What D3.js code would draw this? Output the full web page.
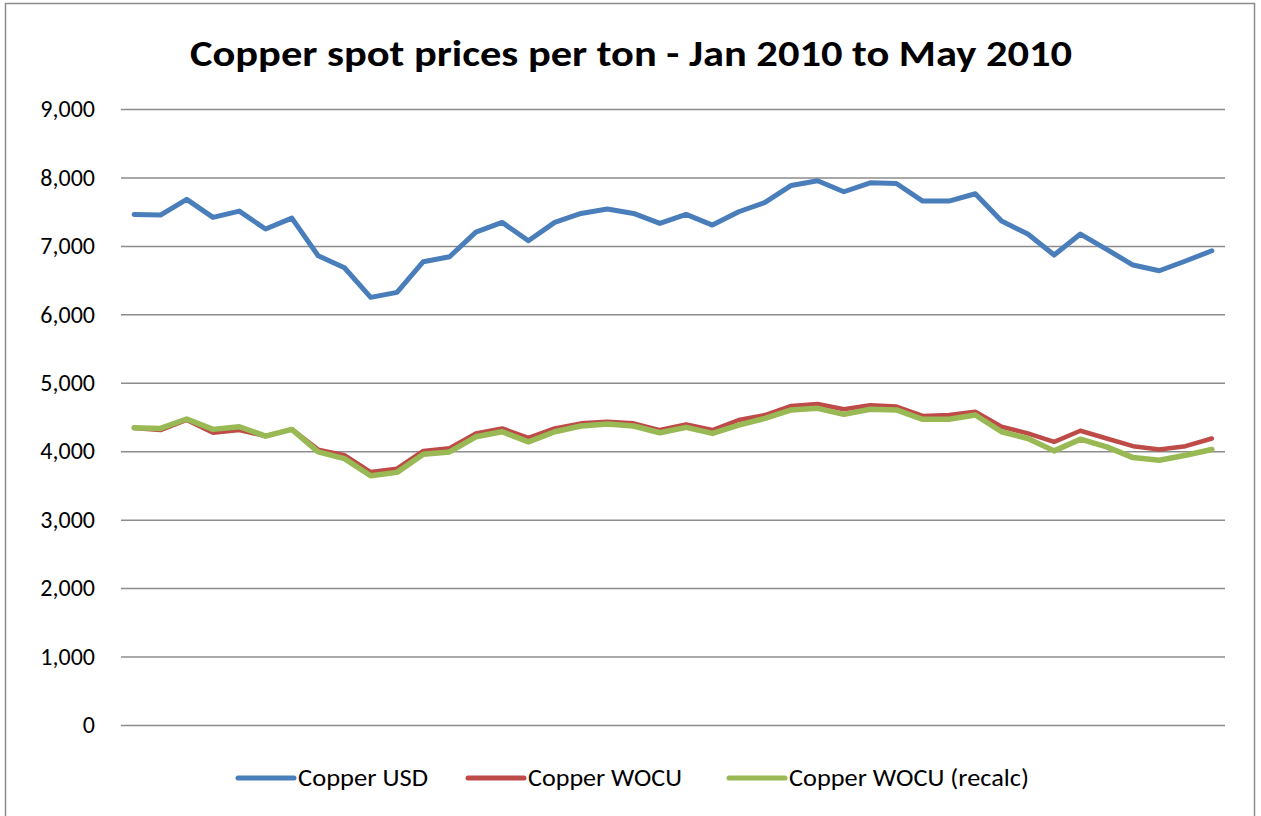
<!DOCTYPE html>
<html>
<head>
<meta charset="utf-8">
<script src="https://cdn.jsdelivr.net/npm/d3@7"></script>
<style>
  body { margin: 0; background: #fff; }
  svg { font-family: Carlito, Lato, "Open Sans", sans-serif; }
</style>
</head>
<body>
<div id="chart"></div>
<script>
/* -----------------------
data
------------------------- */

// 42 readings, Jan 2010 - May 2010 (no category labels shown)
var copper_usd = [7460, 7450, 7680, 7416, 7508, 7246, 7406, 6856, 6681, 6248,
  6321, 6769, 6842, 7202, 7343, 7075, 7343, 7474, 7538, 7474,
  7328, 7460, 7304, 7499, 7635, 7883, 7951, 7791, 7922, 7912,
  7655, 7655, 7762, 7363, 7173, 6866, 7173, 6949, 6720, 6637,
  6779, 6929];

var copper_wocu = [4340, 4309, 4456, 4270, 4309, 4221, 4319, 4024, 3941, 3696,
  3745, 4005, 4044, 4260, 4333, 4196, 4333, 4407, 4431, 4407,
  4309, 4392, 4309, 4456, 4529, 4662, 4691, 4613, 4672, 4652,
  4515, 4529, 4578, 4358, 4260, 4137, 4299, 4186, 4074, 4025,
  4074, 4186];

var copper_recalc = [4343, 4333, 4471, 4319, 4358, 4221, 4319, 3990, 3892, 3642,
  3691, 3956, 3990, 4211, 4284, 4137, 4284, 4368, 4397, 4368,
  4270, 4348, 4260, 4382, 4480, 4603, 4627, 4539, 4613, 4603,
  4466, 4466, 4529, 4284, 4186, 4005, 4176, 4064, 3907, 3868,
  3941, 4025];

var y_ticks = [0, 1000, 2000, 3000, 4000, 5000, 6000, 7000, 8000, 9000];

var series_names = ['Copper USD', 'Copper WOCU', 'Copper WOCU (recalc)'];

/* -----------------------
main variables
------------------------- */

var width = 1261,
    height = 816;

var plot_l = 121, plot_r = 1225,
    plot_t = 109, plot_b = 725;

var c_usd = '#4a7ebb',
    c_wocu = '#be4b48',
    c_recalc = '#98b954',
    c_grid = '#8c8c8c';

var font_size = '24px';

/* -----------------------
set plot
------------------------- */

var svg = d3.select('#chart')
  .append('svg')
  .attr('width', width)
  .attr('height', height);

// chart border
svg.append('rect')
  .attr('x', 5.5)
  .attr('y', 3.5)
  .attr('width', 1249)
  .attr('height', 830)
  .attr('fill', 'none')
  .attr('stroke', '#8c8c8c')
  .attr('stroke-width', 1.5);

var x = d3.scalePoint()
  .domain(d3.range(copper_usd.length))
  .range([plot_l, plot_r])
  .padding(0.5);

var y = d3.scaleLinear()
  .domain([0, 9000])
  .range([plot_b, plot_t]);

// grid + tick labels
var y_axis = svg.append('g')
  .attr('transform', 'translate(' + plot_l + ',0)')
  .call(d3.axisLeft(y)
    .tickValues(y_ticks)
    .tickSize(-(plot_r - plot_l))
    .tickPadding(26)
    .tickFormat(d3.format(',')));

y_axis.select('.domain').remove();
y_axis.selectAll('.tick line')
  .attr('stroke', c_grid)
  .attr('stroke-width', 1.5);
y_axis.selectAll('.tick text')
  .attr('font-family', 'Carlito, Lato, sans-serif')
  .attr('font-size', font_size)
  .attr('fill', '#000');

/* -----------------------
visualize lines
------------------------- */

var line = d3.line()
  .x(function (d, i) { return x(i); })
  .y(function (d) { return y(d); });

var series = [
  { data: copper_usd, color: c_usd, w: 5 },
  { data: copper_wocu, color: c_wocu, w: 4.5 },
  { data: copper_recalc, color: c_recalc, w: 5.5 }
];

svg.selectAll('.series')
  .data(series)
  .enter()
  .append('path')
  .attr('class', 'series')
  .attr('d', function (d) { return line(d.data); })
  .attr('fill', 'none')
  .attr('stroke', function (d) { return d.color; })
  .attr('stroke-width', function (d) { return d.w; })
  .attr('stroke-linejoin', 'round')
  .attr('stroke-linecap', 'round');

/* -----------------------
title
------------------------- */

svg.append('text')
  .attr('x', 631)
  .attr('y', 66)
  .attr('text-anchor', 'middle')
  .attr('font-size', '37px')
  .attr('font-weight', 'bold')
  .attr('textLength', 882)
  .attr('lengthAdjust', 'spacingAndGlyphs')
  .text('Copper spot prices per ton - Jan 2010 to May 2010');

/* -----------------------
legend
------------------------- */

var legend_x = [238, 468, 729],
    legend_txt_w = [130, 154, 240];

var legend = svg.selectAll('.legend')
  .data(series)
  .enter()
  .append('g')
  .attr('class', 'legend')
  .attr('transform', function (d, i) { return 'translate(' + legend_x[i] + ',778)'; });

legend.append('line')
  .attr('x1', 0)
  .attr('x2', 56)
  .attr('stroke', function (d) { return d.color; })
  .attr('stroke-width', 5)
  .attr('stroke-linecap', 'round');

legend.append('text')
  .attr('x', 60)
  .attr('y', 8)
  .attr('font-size', font_size)
  .attr('textLength', function (d, i) { return legend_txt_w[i]; })
  .attr('lengthAdjust', 'spacingAndGlyphs')
  .text(function (d, i) { return series_names[i]; });
</script>
</body>
</html>
